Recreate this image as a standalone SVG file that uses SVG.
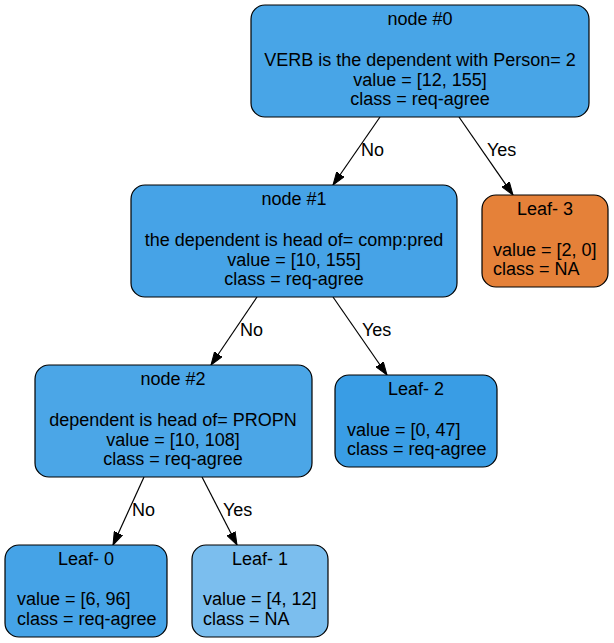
<svg xmlns="http://www.w3.org/2000/svg" width="614" height="643" viewBox="0 0 614 643">
<defs>
<marker id="arr" markerUnits="userSpaceOnUse" markerWidth="14" markerHeight="10" refX="13" refY="5" orient="auto">
<path d="M0,0.5 L13,5 L0,9.5 z" fill="#000" stroke="#000" stroke-width="1"/>
</marker>
<style>
.box{stroke:#000;stroke-width:1.2}
text{font-family:"Liberation Sans",Arial,Helvetica,sans-serif;font-size:18px;fill:#000}
.c{text-anchor:middle}
.edge{stroke:#000;stroke-width:1.2;fill:none;marker-end:url(#arr)}
</style>
</defs>
<rect width="614" height="643" fill="#fff"/>
<g id="edges">
<path class="edge" d="M380,117 L333,185"/>
<path class="edge" d="M459,117 L513,195"/>
<path class="edge" d="M257,297 L211,365"/>
<path class="edge" d="M333,297 L387,375"/>
<path class="edge" d="M144,477 L113,545"/>
<path class="edge" d="M202,477 L237,545"/>
<text x="361" y="156">No</text>
<text x="487" y="156">Yes</text>
<text x="240" y="336">No</text>
<text x="362" y="336">Yes</text>
<text x="132" y="516">No</text>
<text x="223" y="516">Yes</text>
</g>
<g id="node0">
<rect class="box" x="251" y="5" width="338" height="112" rx="14" fill="#48a5e7"/>
<text class="c" x="420" y="25">node #0</text>
<text class="c" x="420" y="66">VERB is the dependent with Person= 2</text>
<text class="c" x="420" y="86">value = [12, 155]</text>
<text class="c" x="420" y="105">class = req-agree</text>
</g>
<g id="node1">
<rect class="box" x="131" y="185" width="326" height="112" rx="14" fill="#46a3e7"/>
<text class="c" x="294" y="205">node #1</text>
<text class="c" x="294" y="246">the dependent is head of= comp:pred</text>
<text class="c" x="294" y="266">value = [10, 155]</text>
<text class="c" x="294" y="285">class = req-agree</text>
</g>
<g id="leaf3">
<rect class="box" x="482" y="195" width="126" height="92" rx="14" fill="#e58139"/>
<text class="c" x="545" y="215">Leaf- 3</text>
<text x="493" y="256">value = [2, 0]</text>
<text x="493" y="275">class = NA</text>
</g>
<g id="node2">
<rect class="box" x="35" y="365" width="277" height="112" rx="14" fill="#4ba6e7"/>
<text class="c" x="173" y="385">node #2</text>
<text class="c" x="173" y="426">dependent is head of= PROPN</text>
<text class="c" x="173" y="446">value = [10, 108]</text>
<text class="c" x="173" y="465">class = req-agree</text>
</g>
<g id="leaf2">
<rect class="box" x="335" y="375" width="162" height="92" rx="14" fill="#399de5"/>
<text class="c" x="416" y="395">Leaf- 2</text>
<text x="347" y="436">value = [0, 47]</text>
<text x="347" y="455">class = req-agree</text>
</g>
<g id="leaf0">
<rect class="box" x="5" y="545" width="162" height="92" rx="14" fill="#45a3e7"/>
<text class="c" x="86" y="565">Leaf- 0</text>
<text x="17" y="605">value = [6, 96]</text>
<text x="17" y="625">class = req-agree</text>
</g>
<g id="leaf1">
<rect class="box" x="192" y="545" width="136" height="92" rx="14" fill="#7bbeee"/>
<text class="c" x="260" y="565">Leaf- 1</text>
<text x="203" y="605">value = [4, 12]</text>
<text x="203" y="625">class = NA</text>
</g>
</svg>
